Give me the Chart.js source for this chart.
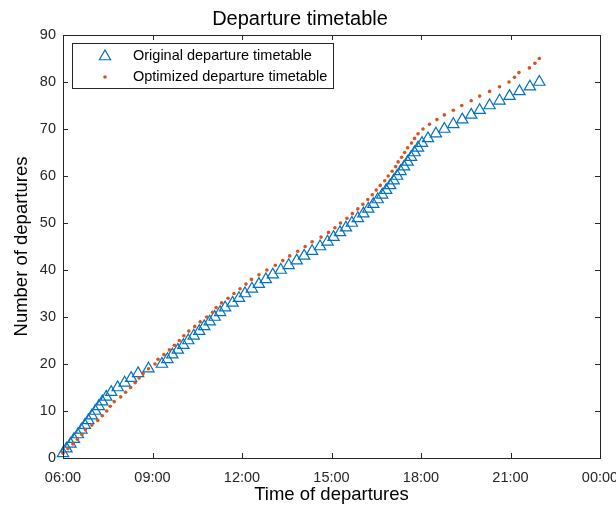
<!DOCTYPE html>
<html>
<head>
<meta charset="utf-8">
<script src="https://cdn.jsdelivr.net/npm/chart.js@4.4.1/dist/chart.umd.min.js"></script>
<style>
  html, body { margin: 0; padding: 0; background: #fff; }
</style>
</head>
<body>
<canvas id="timetable" width="616" height="506"></canvas>
<script>
// departure times, one entry per departure (y = running count)
const originalTimes = [
  '06:00','06:07','06:15','06:22','06:30','06:37','06:44','06:51','06:58','07:05',
  '07:12','07:19','07:27','07:37','07:50','08:04','08:17','08:31','08:52','09:19',
  '09:30','09:40','09:51','10:02','10:12','10:23','10:34','10:44','10:55','11:05',
  '11:16','11:26','11:41','11:54','12:06','12:20','12:34','12:48','13:02','13:18',
  '13:34','13:50','14:05','14:21','14:37','14:52','15:04','15:17','15:29','15:41',
  '15:53','16:04','16:14','16:24','16:33','16:42','16:50','16:58','17:05','17:12',
  '17:19','17:26','17:33','17:40','17:47','17:54','18:02','18:14','18:30','18:47',
  '19:05','19:23','19:41','19:58','20:18','20:38','20:58','21:18','21:39','21:58'
];
const optimizedTimes = [
  '06:00','06:10','06:20','06:29','06:38','06:45','06:58','07:10','07:19','07:28',
  '07:35','07:43','07:56','08:06','08:16','08:25','08:33','08:41','08:52','09:05',
  '09:11','09:23','09:34','09:44','09:54','10:03','10:13','10:25','10:36','10:49',
  '11:01','11:08','11:19','11:32','11:44','11:56','12:08','12:19','12:34','12:50',
  '13:07','13:22','13:36','13:52','14:07','14:21','14:39','14:54','15:07','15:18',
  '15:31','15:42','15:53','16:03','16:13','16:22','16:30','16:38','16:47','16:54',
  '17:02','17:09','17:14','17:21','17:27','17:33','17:41','17:47','17:54','18:04',
  '18:17','18:32','18:47','19:05','19:22','19:41','19:58','20:18','20:38','20:57',
  '21:08','21:17','21:38','21:49','21:58'
];
const xTickLabels = ['06:00', '09:00', '12:00', '15:00', '18:00', '21:00', '00:00'];
const yTickLabels = ['0', '10', '20', '30', '40', '50', '60', '70', '80', '90'];

function toHours(t) {
  const p = t.split(':');
  return Number(p[0]) + Number(p[1]) / 60;
}
function toPoints(times) {
  return times.map(function (t, i) { return { x: toHours(t), y: i + 1 }; });
}

const axisColor = '#262626';
const fontFamily = 'Arial, "Liberation Sans", Helvetica, sans-serif';

// MATLAB-like box with inward ticks on all four sides
const boxTicks = {
  id: 'boxTicks',
  afterDraw(chart) {
    const ctx = chart.ctx;
    const a = chart.chartArea;
    const xs = chart.scales.x, ys = chart.scales.y;
    const len = 5;
    ctx.save();
    ctx.strokeStyle = axisColor;
    ctx.lineWidth = 1;
    ctx.beginPath();
    xs.ticks.forEach(function (t) {
      const px = Math.round(xs.getPixelForValue(t.value)) + 0.5;
      ctx.moveTo(px, a.bottom); ctx.lineTo(px, a.bottom - len);
      ctx.moveTo(px, a.top); ctx.lineTo(px, a.top + len);
    });
    ys.ticks.forEach(function (t) {
      const py = Math.round(ys.getPixelForValue(t.value)) + 0.5;
      ctx.moveTo(a.left, py); ctx.lineTo(a.left + len, py);
      ctx.moveTo(a.right, py); ctx.lineTo(a.right - len, py);
    });
    ctx.stroke();
    ctx.strokeRect(Math.round(a.left) + 0.5, Math.round(a.top) + 0.5,
      Math.round(a.right - a.left), Math.round(a.bottom - a.top));
    ctx.restore();
  }
};

// legend box in the upper left corner of the axes
const boxLegend = {
  id: 'boxLegend',
  afterDraw(chart) {
    const ctx = chart.ctx;
    const a = chart.chartArea;
    const x0 = Math.round(a.left) + 9, y0 = Math.round(a.top) + 8;
    const w = 261, h = 45;
    ctx.save();
    ctx.fillStyle = '#fff';
    ctx.fillRect(x0, y0, w, h);
    ctx.strokeStyle = axisColor;
    ctx.lineWidth = 1;
    ctx.strokeRect(x0 + 0.5, y0 + 0.5, w, h);
    chart.data.datasets.forEach(function (ds, i) {
      const cy = y0 + 12.5 + i * 21.5;
      ctx.fillStyle = ds.pointStyle === 'triangle' ? 'rgba(0,0,0,0)' : ds.backgroundColor;
      ctx.strokeStyle = ds.borderColor;
      ctx.lineWidth = ds.borderWidth;
      Chart.helpers.drawPoint(ctx, {
        pointStyle: ds.pointStyle,
        radius: ds.pointRadius,
        borderWidth: ds.borderWidth,
        rotation: 0
      }, x0 + 33, cy + (ds.pointStyle === 'triangle' ? 1 : 0));
      ctx.fillStyle = '#000';
      ctx.font = '14.5px ' + fontFamily;
      ctx.textBaseline = 'middle';
      ctx.textAlign = 'left';
      ctx.fillText(ds.label, x0 + 61, cy);
    });
    ctx.restore();
  }
};

const data = {
  datasets: [{
    label: 'Original departure timetable',
    data: toPoints(originalTimes),
    pointStyle: 'triangle',
    pointRadius: 6.5,
    borderColor: '#0072BD',
    backgroundColor: 'rgba(0,0,0,0)',
    borderWidth: 1.2,
    clip: false,
    order: 1
  }, {
    label: 'Optimized departure timetable',
    data: toPoints(optimizedTimes),
    pointStyle: 'circle',
    pointRadius: 1.8,
    borderWidth: 0,
    borderColor: '#D95319',
    backgroundColor: '#D95319',
    clip: false,
    order: 0
  }]
};

const config = {
  type: 'scatter',
  data,
  options: {
    responsive: false,
    animation: false,
    devicePixelRatio: 1,
    layout: { padding: { left: 0, right: 16, top: 0, bottom: 0 } },
    scales: {
      x: {
        type: 'linear',
        min: 6,
        max: 24,
        grid: { display: false, drawTicks: false },
        border: { display: false },
        ticks: {
          stepSize: 3,
          padding: 11,
          color: axisColor,
          font: { size: 14.5, family: fontFamily },
          maxRotation: 0,
          callback: function (v) { return xTickLabels[Math.round((v - 6) / 3)]; }
        },
        title: {
          display: true,
          text: 'Time of departures',
          color: '#000',
          font: { size: 18.5, family: fontFamily },
          padding: { top: 0, bottom: 0 }
        },
        afterFit: function (s) { s.height = 48; s.paddingLeft = 0; s.paddingRight = 0; }
      },
      y: {
        min: 0,
        max: 90,
        grid: { display: false, drawTicks: false },
        border: { display: false },
        ticks: {
          stepSize: 10,
          padding: 7,
          color: axisColor,
          font: { size: 14.5, family: fontFamily },
          callback: function (v) { return yTickLabels[Math.round(v / 10)]; }
        },
        title: {
          display: true,
          text: 'Number of departures',
          color: '#000',
          font: { size: 18.5, family: fontFamily },
          padding: { top: 11, bottom: 0 }
        },
        afterFit: function (s) { s.width = 63; s.paddingTop = 0; s.paddingBottom = 0; }
      }
    },
    plugins: {
      legend: { display: false },
      tooltip: { enabled: false },
      title: {
        display: true,
        text: 'Departure timetable',
        color: '#000',
        font: { size: 20, weight: 'normal', family: fontFamily },
        padding: { top: 7, bottom: 4 }
      }
    }
  },
  plugins: [boxTicks, boxLegend]
};

const myChart = new Chart(document.getElementById('timetable'), config);
</script>
</body>
</html>
